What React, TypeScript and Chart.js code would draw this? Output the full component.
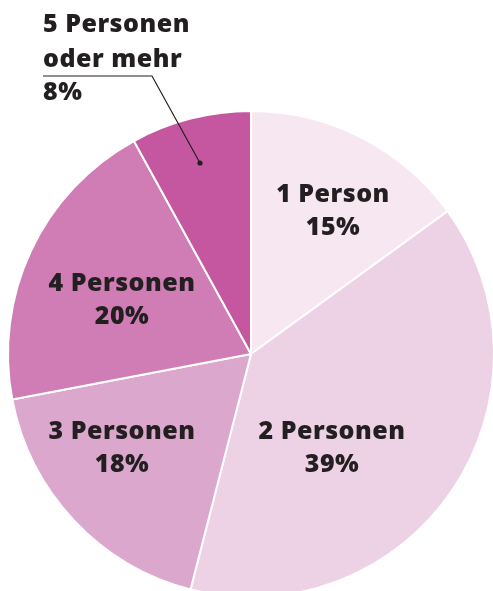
import React, { useEffect, useRef } from "react";
import { Chart, registerables } from "chart.js";

Chart.register(...registerables);

const categories = ["1 Person", "2 Personen", "3 Personen", "4 Personen", "5 Personen oder mehr"];
const shares = [15, 39, 18, 20, 8];
const sliceColors = ["#f6e7f1", "#edd1e5", "#dca7cc", "#cf7db4", "#c4579f"];
const labelLines = [
  ["1 Person", "15%"],
  ["2 Personen", "39%"],
  ["3 Personen", "18%"],
  ["4 Personen", "20%"],
  ["5 Personen", "oder mehr", "8%"],
];

const TEXT = "#231f20";
const FONT = "800 25px 'Open Sans'";

// label anchors relative to the pie centre, in units of the radius
const inner = [
  { dx: 82 / 243, dy: -143 / 243 },
  { dx: 81 / 243, dy: 94 / 243 },
  { dx: -129 / 243, dy: 94 / 243 },
  { dx: -129 / 243, dy: -54 / 243 },
];

const labelPlugin = {
  id: "sliceLabels",
  afterDraw(chart: any) {
    const ctx = chart.ctx;
    const arc = chart.getDatasetMeta(0).data[0];
    const cx = arc.x;
    const cy = arc.y;
    const r = arc.outerRadius;
    ctx.save();
    ctx.font = FONT;
    (ctx as any).letterSpacing = "0.5px";
    ctx.fillStyle = TEXT;
    ctx.textBaseline = "middle";
    ctx.textAlign = "center";
    inner.forEach((p, i) => {
      const x = cx + p.dx * r;
      const y = cy + p.dy * r;
      const lines = labelLines[i];
      ctx.fillText(lines[0], x, y - 16);
      ctx.fillText(lines[1], x, y + 17);
    });
    // outside label for last slice
    const lx = cx - 208;
    const lines = labelLines[4];
    ctx.textAlign = "left";
    ctx.fillText(lines[0], lx, cy - 329);
    ctx.fillText(lines[1], lx, cy - 294);
    ctx.fillText(lines[2], lx, cy - 261);
    // leader line
    const dotX = cx - 51;
    const dotY = cy - 191;
    ctx.strokeStyle = TEXT;
    ctx.lineWidth = 1.2;
    ctx.beginPath();
    ctx.moveTo(lx, cy - 278);
    ctx.lineTo(cx - 99, cy - 278);
    ctx.lineTo(dotX, dotY);
    ctx.stroke();
    ctx.beginPath();
    ctx.arc(dotX, dotY, 2.6, 0, Math.PI * 2);
    ctx.fill();
    ctx.restore();
  },
};

export default function App() {
  const ref = useRef<HTMLCanvasElement>(null);
  useEffect(() => {
    document.body.style.overflow = "hidden";
    const chart = new Chart(ref.current!, {
      type: "pie",
      data: {
        labels: categories,
        datasets: [
          {
            data: shares,
            backgroundColor: sliceColors,
            borderColor: "#ffffff",
            borderWidth: 2,
          },
        ],
      },
      options: {
        responsive: false,
        animation: false,
        layout: { padding: { left: 7, right: 7, top: 110, bottom: 8 } },
        plugins: { legend: { display: false }, tooltip: { enabled: false } },
      },
      plugins: [labelPlugin],
    });
    return () => chart.destroy();
  }, []);
  return (
    <canvas
      ref={ref}
      width={502}
      height={606}
      style={{ position: "fixed", left: 0, top: 0, width: 502, height: 606 }}
    />
  );
}
